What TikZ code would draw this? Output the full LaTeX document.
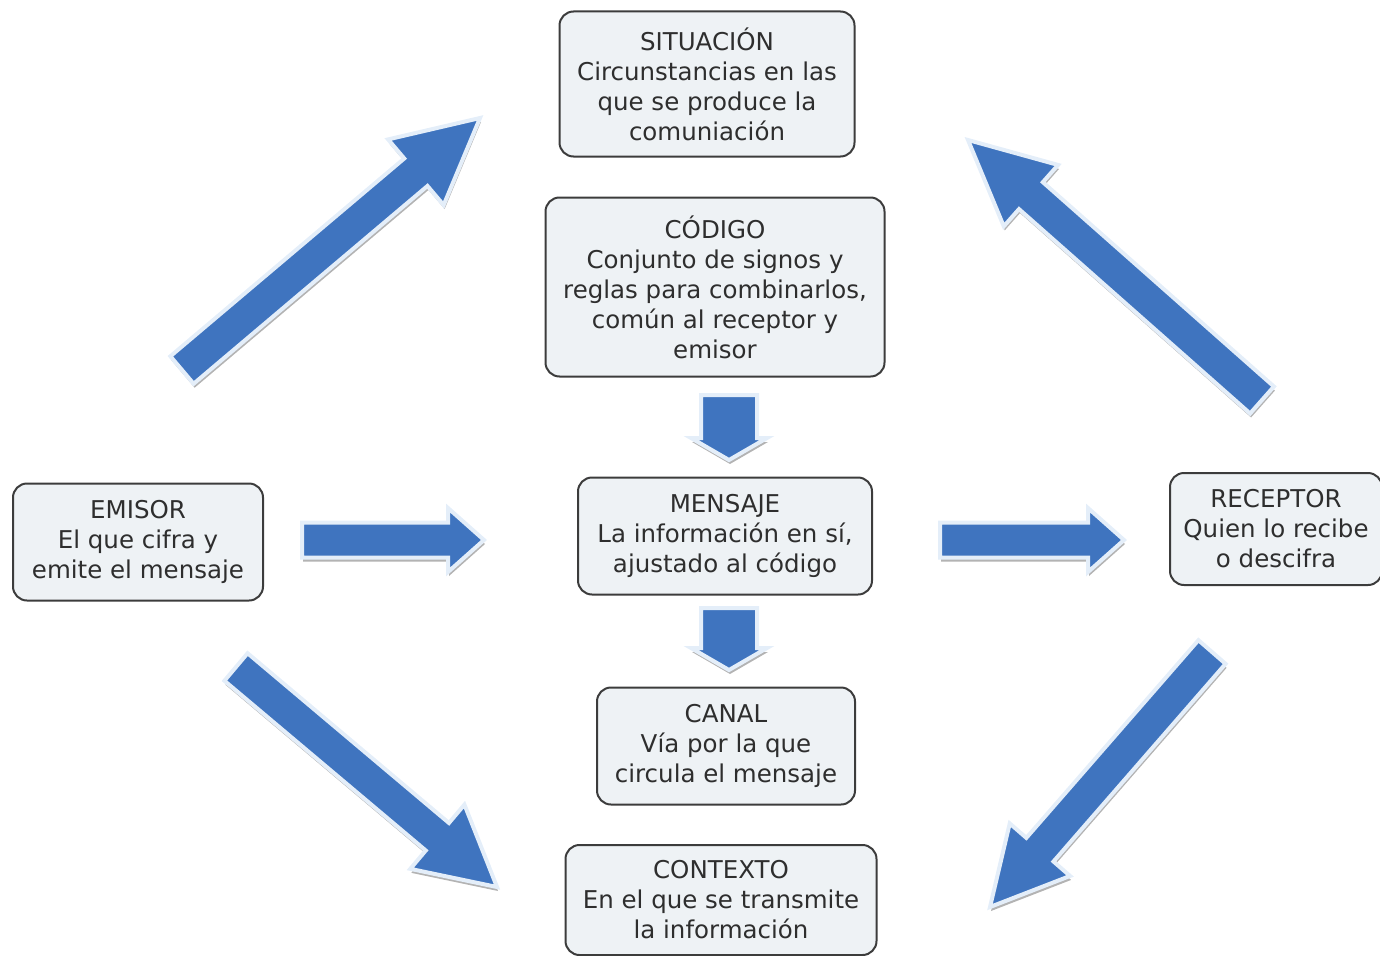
\documentclass[tikz,border=0pt]{standalone}
\usepackage{fontspec}
\setmainfont{DejaVu Sans}
\usetikzlibrary{calc,shadows}
\definecolor{arrowblue}{HTML}{3F74BF}
\definecolor{arrowedge}{HTML}{E4EEF9}
\definecolor{boxfill}{HTML}{EEF2F5}
\definecolor{boxline}{HTML}{3C3C3C}
\definecolor{textgray}{HTML}{2E2E2E}
% tail, tip, half shaft width, half head width, head length
\newcommand{\BlockArrow}[5]{%
  \coordinate (hb) at ($(#2)!#5pt!(#1)$);
  \filldraw[Arrow] ($(#1)!#3pt!90:(#2)$) -- ($(hb)!#3pt!90:(#2)$) -- ($(hb)!#4pt!90:(#2)$) -- (#2)
    -- ($(hb)!#4pt!-90:(#2)$) -- ($(hb)!#3pt!-90:(#2)$) -- ($(#1)!#3pt!-90:(#2)$) -- cycle;
}
\begin{document}
\begin{tikzpicture}[x=1pt,y=-1pt]
\tikzstyle{Box} = [draw=boxline, fill=boxfill, line width=2, rounded corners=14, align=center, text=textgray, font=\fontsize{24.5}{30}\selectfont, inner sep=0]
\tikzstyle{Arrow} = [fill=arrowblue, draw=arrowedge, line width=4, drop shadow={shadow xshift=1pt, shadow yshift=-4pt, fill=gray, opacity=0.6}]
\useasboundingbox (0,0) rectangle (1380,955);
\node [Box, minimum width=295, minimum height=145] (sit) at (707,84) {SITUACIÓN\\Circunstancias en las\\que se produce la\\comuniación};
\node [Box, minimum width=339, minimum height=179] (cod) at (715,287) {CÓDIGO\\Conjunto de signos y\\reglas para combinarlos,\\común al receptor y\\emisor};
\node [Box, minimum width=294, minimum height=117] (men) at (725,536) {MENSAJE\\La información en sí,\\ajustado al código};
\node [Box, minimum width=258, minimum height=117] (can) at (726,746) {CANAL\\Vía por la que\\circula el mensaje};
\node [Box, minimum width=311, minimum height=110] (con) at (721,900) {CONTEXTO\\En el que se transmite\\la información};
\node [Box, minimum width=250, minimum height=117] (emi) at (138,542) {EMISOR\\El que cifra y\\emite el mensaje};
\node [Box, minimum width=212, minimum height=112] (rec) at (1276,529) {RECEPTOR\\Quien lo recibe\\o descifra};
\coordinate (t1) at (302,540);
\coordinate (h1) at (484,540);
\coordinate (t2) at (940,540);
\coordinate (h2) at (1124,540);
\coordinate (t3) at (729,395);
\coordinate (h3) at (729,460);
\coordinate (t4) at (729,608);
\coordinate (h4) at (729,670);
\coordinate (t5) at (182,370);
\coordinate (h5) at (480,118);
\coordinate (t6) at (1262,400);
\coordinate (h6) at (968,140);
\coordinate (t7) at (236,667);
\coordinate (h7) at (497,887);
\coordinate (t8) at (1212,652);
\coordinate (h8) at (990,907);
\BlockArrow{t1}{h1}{17.5}{32}{36}
\BlockArrow{t2}{h2}{17.5}{32}{36}
\BlockArrow{t3}{h3}{28}{38}{22}
\BlockArrow{t4}{h4}{28}{38}{22}
\BlockArrow{t5}{h5}{18}{43}{84}
\BlockArrow{t6}{h6}{18}{41}{84}
\BlockArrow{t7}{h7}{18}{42}{78}
\BlockArrow{t8}{h8}{18}{40}{76}
\end{tikzpicture}
\end{document}
